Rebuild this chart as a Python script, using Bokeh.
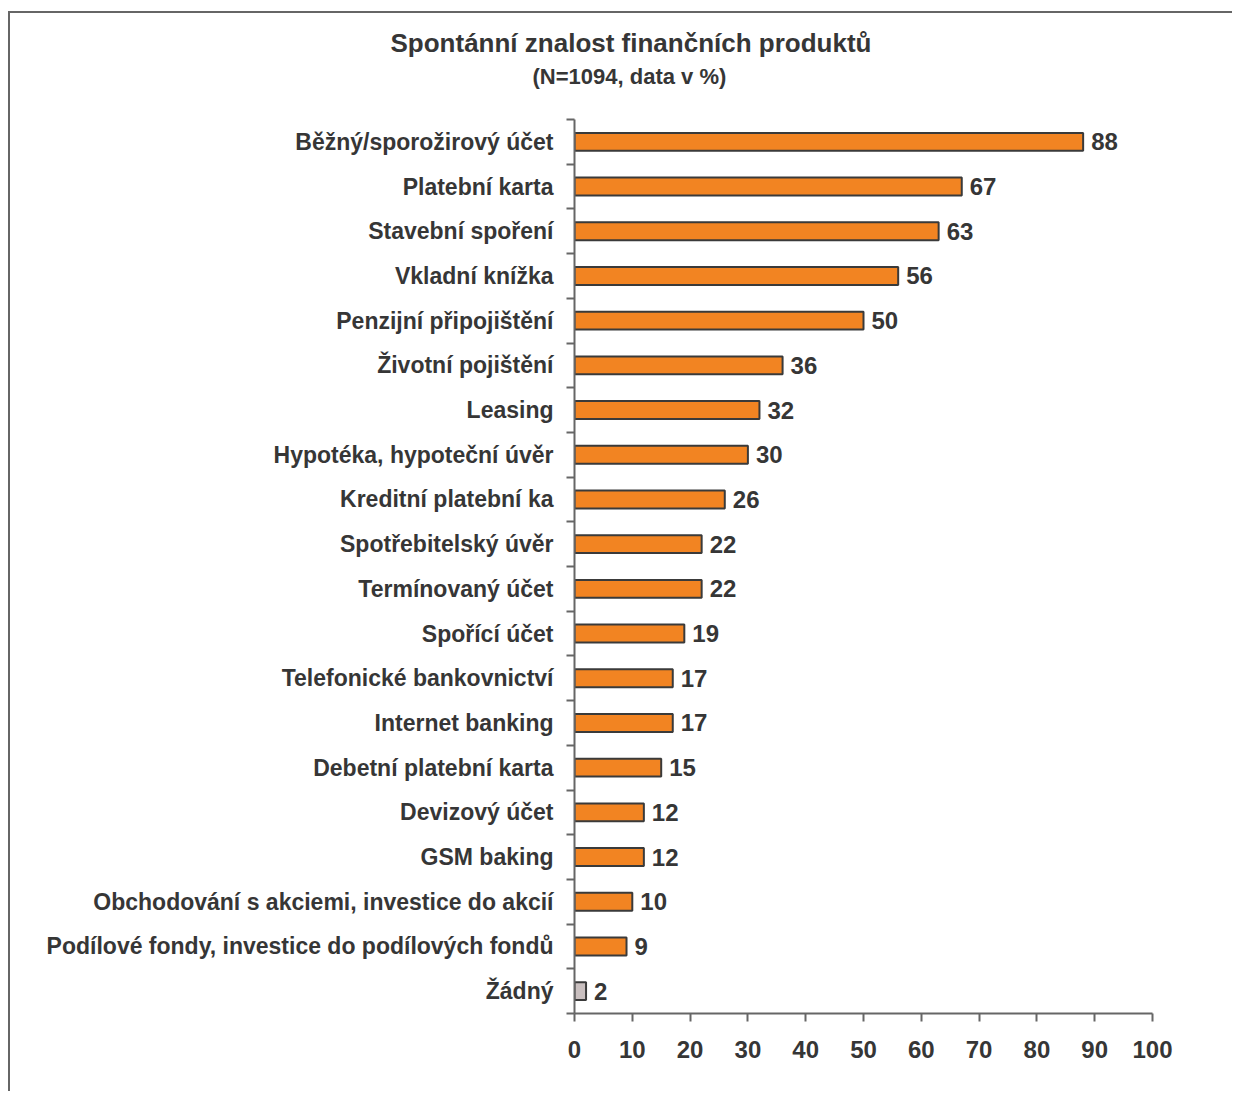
from bokeh.plotting import figure
from bokeh.models import Range1d, FixedTicker, Title, ColumnDataSource
from bokeh.core.properties import value
from bokeh.embed import file_html
from bokeh.resources import INLINE

# Survey results: spontaneous awareness of financial products (%)
products = [
    "Běžný/sporožirový účet",
    "Platební karta",
    "Stavební spoření",
    "Vkladní knížka",
    "Penzijní připojištění",
    "Životní pojištění",
    "Leasing",
    "Hypotéka, hypoteční úvěr",
    "Kreditní platební ka",
    "Spotřebitelský úvěr",
    "Termínovaný účet",
    "Spořící účet",
    "Telefonické bankovnictví",
    "Internet banking",
    "Debetní platební karta",
    "Devizový účet",
    "GSM baking",
    "Obchodování s akciemi, investice do akcií",
    "Podílové fondy, investice do podílových fondů",
    "Žádný",
]
shares = [88, 67, 63, 56, 50, 36, 32, 30, 26, 22, 22, 19, 17, 17, 15, 12, 12, 10, 9, 2]
x_ticks = [0, 10, 20, 30, 40, 50, 60, 70, 80, 90, 100]

title_text = "Spontánní znalost finančních produktů"
subtitle_text = "(N=1094, data v %)"

FONT = "Liberation Sans"
TEXT = "#363636"
ORANGE = "#F28422"
GREY = "#C9BFBF"
EDGE = "#3a3a3a"
AXIS = "#666666"

n = len(products)
rows = list(range(n))
colors = [GREY if name == "Žádný" else ORANGE for name in products]

src = ColumnDataSource(dict(
    y=rows,
    share=shares,
    color=colors,
    label=[str(v) for v in shares],
))

# canvas sits inside an open frame (left and top border only)
p = figure(
    width=1224, height=1080,
    x_range=Range1d(0, 100),
    y_range=Range1d(n - 0.5, -0.5),
    output_backend="svg", toolbar_location=None,
    min_border_left=564, min_border_right=82,
    min_border_top=106, min_border_bottom=80,
)
p.margin = (11, 0, 0, 8)
p.styles = {"border-left": f"2px solid {AXIS}", "border-top": f"2px solid {AXIS}"}
p.outline_line_color = None
p.xgrid.grid_line_color = None
p.ygrid.grid_line_color = None
p.background_fill_color = "white"
p.border_fill_color = "white"

p.hbar(y="y", left=0, right="share", height=0.4, source=src,
       fill_color="color", line_color=EDGE, line_width=2)

p.text(x="share", y="y", text="label", source=src,
       x_offset=8, text_baseline="middle", text_align="left",
       text_font=value(FONT), text_font_style="bold",
       text_font_size="24px", text_color=TEXT)

# category axis: labels at bar centres, tick marks between bars
ya = p.yaxis[0]
ya.ticker = FixedTicker(ticks=rows, minor_ticks=[i - 0.5 for i in range(n + 1)])
ya.major_label_overrides = {i: products[i] for i in rows}
ya.major_tick_line_color = None
ya.major_tick_out = 0
ya.major_tick_in = 0
ya.minor_tick_line_color = AXIS
ya.minor_tick_line_width = 2
ya.minor_tick_out = 8
ya.minor_tick_in = 0
ya.axis_line_color = AXIS
ya.axis_line_width = 2
ya.major_label_standoff = 13
ya.major_label_text_font = FONT
ya.major_label_text_font_style = "bold"
ya.major_label_text_font_size = "23px"
ya.major_label_text_color = TEXT

xa = p.xaxis[0]
xa.ticker = FixedTicker(ticks=x_ticks)
xa.major_tick_line_color = AXIS
xa.major_tick_line_width = 2
xa.major_tick_out = 8
xa.major_tick_in = 0
xa.minor_tick_line_color = None
xa.axis_line_color = AXIS
xa.axis_line_width = 2
xa.major_label_standoff = 19
xa.major_label_text_font = FONT
xa.major_label_text_font_style = "bold"
xa.major_label_text_font_size = "24px"
xa.major_label_text_color = TEXT

# heading panels stacked above the frame: spacer, subtitle, title
p.add_layout(Title(text=" ", text_font_size="13px", standoff=10), "above")
p.add_layout(Title(text=subtitle_text, align="left", offset=-42,
                   text_font=FONT, text_font_style="bold",
                   text_font_size="22px", text_color=TEXT, standoff=8), "above")
p.add_layout(Title(text=title_text, align="left", offset=-184,
                   text_font=FONT, text_font_style="bold",
                   text_font_size="26px", text_color=TEXT, standoff=0), "above")

open("out.html", "w").write(file_html(p, INLINE))
